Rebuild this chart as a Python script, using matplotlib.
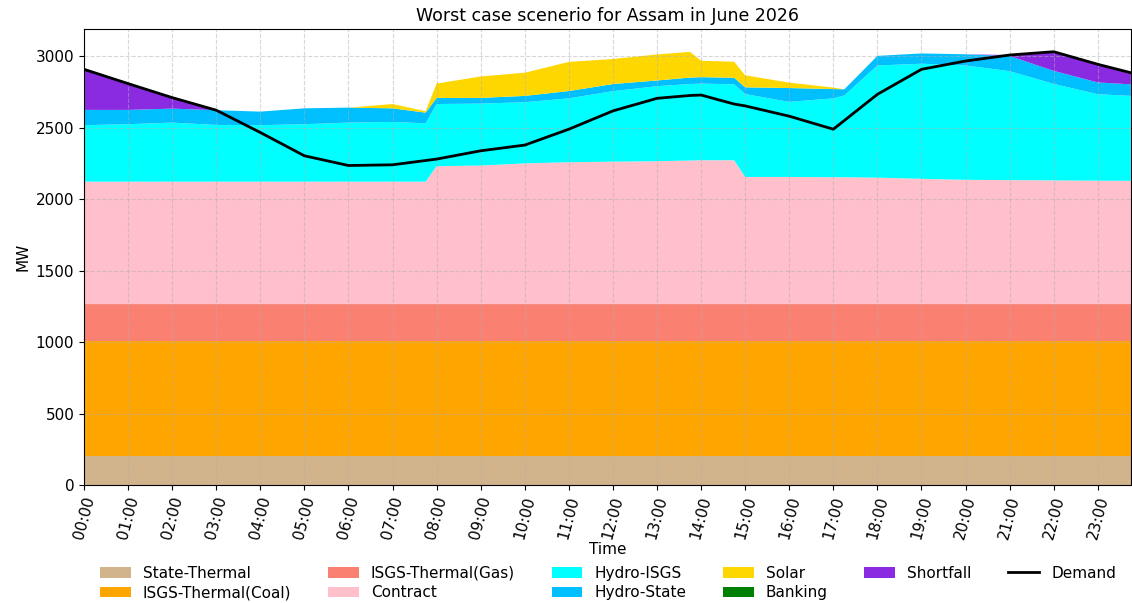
import matplotlib
matplotlib.use("Agg")
import numpy as np
import matplotlib.pyplot as plt

# time in hours (breakpoints)
hours = [0, 1, 2, 3, 4, 5, 6, 7, 7.75, 8, 9, 10, 11, 12, 13, 13.75, 14,
         14.75, 15, 16, 17, 17.25, 18, 19, 20, 21, 22, 23, 23.75]

state_thermal = [200] * len(hours)
isgs_coal = [810] * len(hours)
isgs_gas = [255] * len(hours)
contract = [857, 857, 857, 857, 857, 857, 857, 857, 857, 965, 970, 985, 993,
            997, 1000, 1005, 1007, 1007, 890, 890, 888, 888, 885, 877, 870,
            868, 866, 864, 863]
hydro_isgs = [395, 402, 413, 397, 395, 402, 413, 418, 408, 435, 433, 428,
              447, 493, 525, 535, 536, 531, 580, 525, 552, 572, 785, 805,
              800, 762, 675, 605, 594]
hydro_state = [107, 100, 98, 103, 95, 111, 105, 95, 75, 43, 40, 44, 51, 50,
               40, 45, 45, 46, 47, 97, 65, 43, 67, 72, 78, 106, 91, 82, 81]
solar = [0, 0, 0, 0, 0, 0, 0, 30, 10, 100, 150, 162, 204, 175, 182, 180,
         115, 112, 84, 38, 10, 0, 0, 0, 0, 0, 0, 0, 0]
banking = [0] * len(hours)
shortfall = [284, 184, 77, 0, 0, 0, 0, 0, 0, 0, 0, 0, 0, 0, 0, 0, 0, 0, 0,
             0, 0, 0, 0, 0, 0, 7, 135, 128, 81]
demand = [2908, 2808, 2710, 2622, 2466, 2303, 2235, 2240, 2270, 2280, 2338,
          2378, 2489, 2617, 2705, 2725, 2728, 2665, 2652, 2580, 2489, 2550,
          2733, 2908, 2966, 3008, 3031, 2943, 2884]

labels = ['State-Thermal', 'ISGS-Thermal(Coal)', 'ISGS-Thermal(Gas)',
          'Contract', 'Hydro-ISGS', 'Hydro-State', 'Solar', 'Banking',
          'Shortfall']
colors = ['tan', 'orange', 'salmon', 'pink', 'cyan', 'deepskyblue', 'gold',
          'green', 'blueviolet']

fig = plt.figure(figsize=(11.32, 6.03), dpi=100)
ax = fig.add_axes([84 / 1132., 1 - 485 / 603., 1 - 84 / 1132. - 0.001,
                   (485 - 29) / 603.])

ax.stackplot(hours, state_thermal, isgs_coal, isgs_gas, contract,
             hydro_isgs, hydro_state, solar, banking, shortfall,
             labels=labels, colors=colors)
ax.plot(hours, demand, color='black', linewidth=2, label='Demand')

ax.set_xlim(0, 23.75)
ax.set_ylim(0, 3190)
ax.set_xticks(range(24))
ax.set_xticklabels(["%02d:00" % h for h in range(24)], rotation=75,
                   fontsize=11)
ax.set_yticks(np.arange(0, 3001, 500))
ax.tick_params(axis='y', labelsize=11)
ax.grid(True, linestyle='--', alpha=0.5)
ax.set_xlabel('Time', fontsize=11, labelpad=1)
ax.set_ylabel('MW', fontsize=11)
ax.set_title('Worst case scenerio for Assam in June 2026', fontsize=12.5)

fig.legend(loc='upper center', bbox_to_anchor=(608 / 1132., 1 - 552 / 603.),
           ncol=6, frameon=False, fontsize=11, columnspacing=2.4,
           handlelength=2.0, labelspacing=0.3)

fig.savefig('out.png', dpi=100)
